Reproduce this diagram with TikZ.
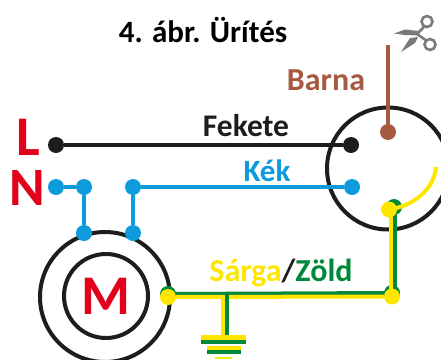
\documentclass[tikz,border=0pt]{standalone}
\usepackage{fontspec}
\setmainfont{Carlito}
\definecolor{cblack}{HTML}{1D1D1B}
\definecolor{cblue}{HTML}{0E9BDC}
\definecolor{cbrown}{HTML}{A65A40}
\definecolor{cred}{HTML}{E2001A}
\definecolor{cyel}{HTML}{FFE600}
\definecolor{cgreen}{HTML}{00883A}
\definecolor{cgray}{HTML}{7A7A7A}
\tikzset{
 dot/.style={circle,fill=#1,draw=none,inner sep=0pt,minimum size=16pt},
 wire/.style={line width=4pt,draw=#1},
 ring/.style={circle,draw=cblack,line width=4pt,fill=none,inner sep=0pt,minimum size=#1},
 lab/.style={font=\bfseries\fontsize{#1}{#1}\selectfont,inner sep=0pt},
}
\begin{document}
\begin{tikzpicture}[x=1pt,y=-1pt]
\useasboundingbox (0,0) rectangle (441,359);
\begin{scope}
\clip (0,0) rectangle (441,359);
% rings
\node[ring=122pt] (plug) at (388,168.5) {};
\node[ring=130pt] (motor) at (105,297) {};
\node[ring=84pt] (rotor) at (106,296) {};
% brown
\coordinate (cut) at (388,45);
\node[dot=cbrown] (bd) at (388,132) {};
\draw[wire=cbrown] (cut) -- (bd.center);
% black
\node[dot=cblack] (l1) at (56,145) {};
\node[dot=cblack] (l2) at (351,145) {};
\draw[wire=cblack] (l1) -- (l2);
% blue
\node[dot=cblue] (n0) at (56,187) {};
\node[dot=cblue] (n1) at (84,187) {};
\node[dot=cblue] (n2) at (133,187) {};
\node[dot=cblue] (n3) at (352,187) {};
\node[dot=cblue] (m1) at (84,233) {};
\node[dot=cblue] (m2) at (133,233) {};
\draw[wire=cblue] (n0) -- (n1);
\draw[wire=cblue] (n2) -- (n3);
\draw[wire=cblue] (n1) -- (m1);
\draw[wire=cblue] (n2) -- (m2);
% green-yellow
\node[dot=cgreen] (g1) at (168,294) {};
\node[dot=cgreen] (g2) at (392,293) {};
\node[dot=cgreen] (g3) at (394,207) {};
\draw[wire=cgreen] (g1.center) -- (g2.center);
\draw[wire=cgreen] (394.5,208) -- (394.5,293);
\node[dot=cyel] (y1) at (168,297) {};
\node[dot=cyel] (y2) at (392,296.5) {};
\node[dot=cyel] (y3) at (389,209.5) {};
\draw[wire=cyel] (y1) -- (y2);
\draw[wire=cyel] (390.5,209.5) -- (390.5,296);
\draw[wire=cyel] (223,297) -- (223,337);
\draw[wire=cyel] (y3.center) .. controls (413,206) and (434,190) .. (436,167);
\draw[wire=cgreen] (227,293) -- (227,336);
% ground
\fill[cyel] (201,335) rectangle (246,340);
\fill[cgreen] (201,340) rectangle (246,344);
\fill[cyel] (207,346) rectangle (241,350);
\fill[cgreen] (207,350) rectangle (241,354);
\fill[cyel] (215,357) rectangle (232,359);
% scissors
\draw[cgray,line width=2.6pt] (427,21.5) circle (5.5);
\draw[cgray,line width=2.6pt] (430,44.5) circle (5.5);
\draw[cgray,line width=2.6pt] (424,27) -- (417,34) -- (425.5,40);
\fill[cgray] (394,33.5) -- (405,29.5) -- (419,31) -- (419,35.5) -- (405,35) -- cycle;
\fill[cgray] (401,52) -- (410,38) -- (418,37) -- (415,43) -- cycle;
\end{scope}
% labels
\node[lab=31] (title) at (203,30) {4. ábr. Ürítés};
\node[lab=32,text=cbrown] (barna) at (326,80) {Barna};
\node[lab=31.5,text=cblack] (fekete) at (246,126) {Fekete};
\node[lab=31,text=cblue] (kek) at (267,171) {Kék};
\node[lab=56,text=cred] (L) at (28,137.5) {L};
\node[lab=54,text=cred] (N) at (27.5,187.5) {N};
\node[lab=56,text=cred] (M) at (106,296) {M};
\node[lab=32] (sz) at (281,273) {\textcolor{cyel}{Sárga}\textcolor{cblack}{/}\textcolor{cgreen}{Zöld}};
\end{tikzpicture}
\end{document}
